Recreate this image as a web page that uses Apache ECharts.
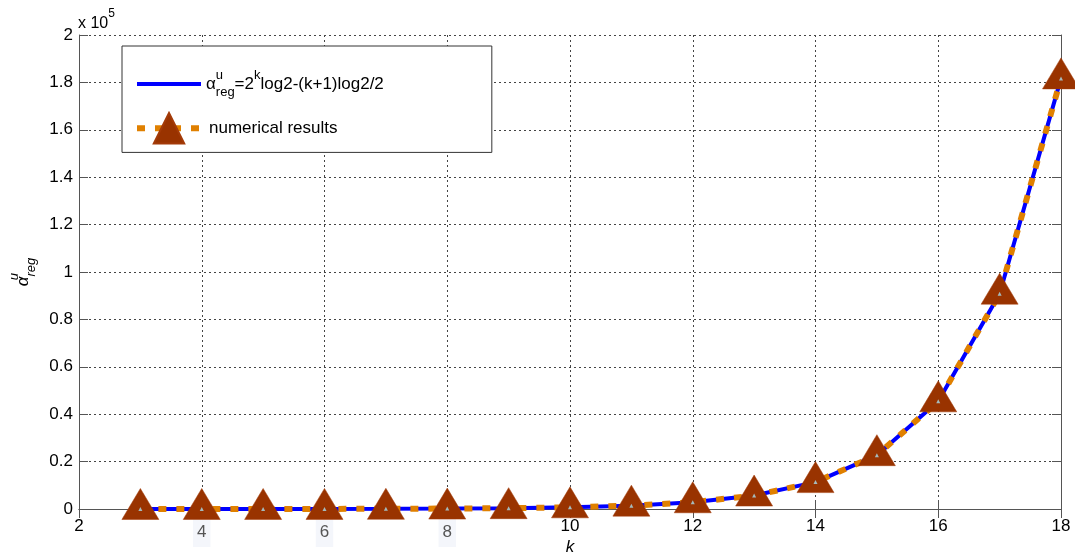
<!DOCTYPE html>
<html><head><meta charset="utf-8">
<script src="https://cdn.jsdelivr.net/npm/echarts@6/dist/echarts.min.js"></script>
<style>html,body{margin:0;padding:0;background:#fff}#c{width:1075px;height:555px}</style>
</head><body><div id="c"></div>
<script>
// ---- data ----
const kValues = [3, 4, 5, 6, 7, 8, 9, 10, 11, 12, 13, 14, 15, 16, 17, 18];
const formulaValues = [4, 9, 20, 42, 86, 174, 351, 706, 1415, 2835, 5673, 11351, 22707, 45420, 90846, 181697];
const numericValues = [4, 9, 20, 42, 86, 174, 351, 706, 1415, 2835, 5673, 11351, 22707, 45420, 90846, 181697];
const xTickLabels = ['2', '4', '6', '8', '10', '12', '14', '16', '18'];
const yTickLabels = ['0', '0.2', '0.4', '0.6', '0.8', '1', '1.2', '1.4', '1.6', '1.8', '2'];
const shadedXLabels = ['4', '6', '8'];
const formulaName = 'formula';
const numericName = 'numerical results';

const FONT = '"Liberation Sans", Arial, sans-serif';
const formulaData = kValues.map((k, i) => [k, formulaValues[i]]);
const numericData = kValues.map((k, i) => [k, numericValues[i]]);

const alphaRich = {
  a: {fontSize: 17, fontFamily: FONT, color: '#000', lineHeight: 30},
  u: {fontSize: 13, fontFamily: FONT, color: '#000', lineHeight: 14, verticalAlign: 'top', width: 0},
  r: {fontSize: 13, fontFamily: FONT, color: '#000', lineHeight: 14, verticalAlign: 'bottom'},
  t: {fontSize: 17, fontFamily: FONT, color: '#000', lineHeight: 30},
  s: {fontSize: 13, fontFamily: FONT, color: '#000', lineHeight: 14, verticalAlign: 'top'},
  n: {fontSize: 17, fontFamily: FONT, color: '#000', lineHeight: 30, padding: [0, 0, 0, 3]}
};
const yNameRich = {
  a: {fontSize: 17, fontFamily: FONT, fontStyle: 'italic', color: '#000', lineHeight: 30},
  u: {fontSize: 13, fontFamily: FONT, fontStyle: 'italic', color: '#000', lineHeight: 14, verticalAlign: 'top', width: 0},
  r: {fontSize: 13, fontFamily: FONT, fontStyle: 'italic', color: '#000', lineHeight: 14, verticalAlign: 'bottom'}
};

const chart = echarts.init(document.getElementById('c'));
const axisColor = '#555';
const gridLine = {show: true, lineStyle: {color: '#444', type: [2, 3], width: 1}};

chart.setOption({
  animation: false,
  backgroundColor: '#fff',
  grid: {left: 79, right: 14, top: 35, bottom: 46, containLabel: false, outerBoundsMode: 'none'},
  xAxis: [{
    type: 'value', min: 2, max: 18, interval: 2,
    name: 'k', nameLocation: 'middle', nameGap: 30, nameMoveOverlap: false,
    nameTextStyle: {fontSize: 17, fontFamily: FONT, fontStyle: 'italic', color: '#000'},
    axisLine: {show: true, lineStyle: {color: axisColor}},
    axisTick: {show: true, inside: true, length: 9, lineStyle: {color: axisColor}},
    axisLabel: {
      margin: 9, fontSize: 17, fontFamily: FONT, color: '#000',
      formatter: (v) => {
        const lab = xTickLabels[Math.round((v - 2) / 2)];
        return shadedXLabels.indexOf(lab) >= 0 ? '{g|' + lab + '}' : lab;
      },
      rich: {g: {fontSize: 17, fontFamily: FONT, color: '#555', backgroundColor: '#f4f6fb', padding: [6, 4, 6, 4]}}
    },
    splitLine: gridLine
  }, {
    type: 'value', min: 2, max: 18, interval: 2, position: 'top',
    axisLine: {show: true, lineStyle: {color: axisColor}},
    axisTick: {show: true, inside: true, length: 9, lineStyle: {color: axisColor}},
    axisLabel: {show: false}, splitLine: {show: false}
  }],
  yAxis: [{
    type: 'value', min: 0, max: 200000, interval: 20000,
    name: '{a|α}{u|u}{r|reg}', nameLocation: 'middle', nameGap: 41, nameRotate: 90, nameMoveOverlap: false,
    nameTextStyle: {rich: yNameRich},
    axisLine: {show: true, lineStyle: {color: axisColor}},
    axisTick: {show: true, inside: true, length: 9, lineStyle: {color: axisColor}},
    axisLabel: {margin: 6, fontSize: 17, fontFamily: FONT, color: '#000',
      formatter: (v, i) => yTickLabels[i]},
    splitLine: gridLine
  }, {
    type: 'value', min: 0, max: 200000, interval: 20000, position: 'right',
    axisLine: {show: true, lineStyle: {color: axisColor}},
    axisTick: {show: true, inside: true, length: 9, lineStyle: {color: axisColor}},
    axisLabel: {show: false}, splitLine: {show: false}
  }],
  legend: {
    orient: 'vertical', left: 122, top: 46,
    data: [
      {name: formulaName, icon: 'path://M0,0 H64 V4 H0 Z', itemStyle: {color: '#0000ff'}},
      {name: numericName, lineStyle: {width: 6, type: [8, 10], color: '#e08000'}}
    ],
    backgroundColor: '#fff', borderColor: '#333', borderWidth: 1,
    padding: [23, 108, 8, 12], itemGap: 13, itemWidth: 64, itemHeight: 38,
    textStyle: {fontSize: 17, fontFamily: FONT, color: '#000', rich: alphaRich},
    formatter: (name) => name === formulaName
      ? '{a|α}{u|u}{r|reg}{t|=2}{s|k}{t|log2-(k+1)log2/2}'
      : '{n|' + name + '}'
  },
  graphic: [{
    type: 'text', left: 78, top: 8,
    style: {
      text: '{a|x 10}{b|5}',
      rich: {
        a: {fontSize: 16, fontFamily: FONT, fill: '#000', lineHeight: 24, verticalAlign: 'bottom'},
        b: {fontSize: 12, fontFamily: FONT, fill: '#000', lineHeight: 14, verticalAlign: 'top'}
      }
    }
  }],
  series: [{
    name: formulaName, type: 'line', data: formulaData,
    symbol: 'none', showSymbol: false,
    lineStyle: {color: '#0000ff', width: 4},
    itemStyle: {color: '#0000ff'}, z: 2
  }, {
    name: numericName, type: 'line', data: numericData,
    symbol: 'triangle', symbolSize: [37, 31], symbolOffset: [0, -5], showSymbol: true,
    lineStyle: {color: '#e08000', width: 6, type: [8, 10], cap: 'butt'},
    itemStyle: {color: '#993300', borderColor: '#a33a08', borderWidth: 0.5}, z: 3
  }, {
    name: 'markerDot', type: 'scatter', data: numericData,
    symbol: 'triangle', symbolSize: 4, itemStyle: {color: '#a8dcea'}, z: 4, silent: true
  }]
});
</script>
</body></html>
